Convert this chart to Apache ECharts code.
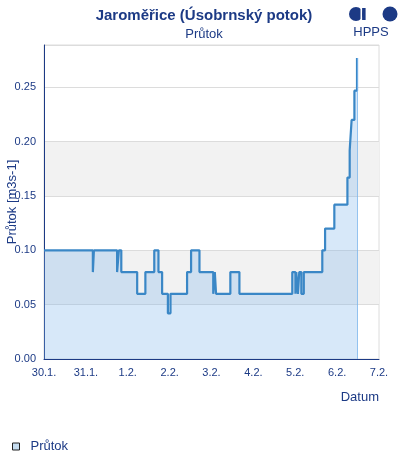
<!DOCTYPE html>
<html>
<head>
<meta charset="utf-8">
<script src="https://cdn.jsdelivr.net/npm/echarts@6/dist/echarts.min.js"></script>
<style>html,body{margin:0;padding:0;background:#fff}#c{width:400px;height:460px}</style>
</head>
<body>
<div id="c"></div>
<script>
// Hours since 30.1. 00:00
var hours = [0, 28.0, 28.6, 41.9, 42.9, 44.3, 53.4, 58.1, 63.2, 65.6, 67.7, 71.0, 72.5, 82.0, 84.3, 89.1,
  97.0, 97.9, 98.6, 106.8, 112.0, 142.3, 144.1, 144.6, 145.5, 146.3, 147.5, 148.9,
  159.5, 161.1, 166.4, 173.9, 175.2, 176.3, 177.9, 179.4, 179.7];
var flow = [0.10, 0.08, 0.10, 0.08, 0.10, 0.08, 0.06, 0.08, 0.10, 0.08, 0.06, 0.042, 0.06, 0.08, 0.10, 0.08,
  0.06, 0.08, 0.06, 0.08, 0.06, 0.08, 0.06, 0.08, 0.06, 0.08, 0.06, 0.08,
  0.10, 0.12, 0.142, 0.167, 0.192, 0.22, 0.247, 0.277, 0.277];
var dayLabels = ['30.1.', '31.1.', '1.2.', '2.2.', '3.2.', '4.2.', '5.2.', '6.2.', '7.2.'];
var seriesName = 'Průtok';

var navy = '#1c3a85';
var data = hours.map(function (h, i) { return [h, flow[i]]; });
var lastH = hours[hours.length - 1], lastV = flow[flow.length - 1];

var chart = echarts.init(document.getElementById('c'), null, {renderer: 'canvas'});
chart.setOption({
  animation: false,
  textStyle: {fontFamily: 'Liberation Sans, Arial, sans-serif'},
  title: {
    text: 'Jaroměřice (Úsobrnský potok)',
    subtext: 'Průtok',
    left: 199, top: 3, textAlign: 'center',
    textStyle: {fontSize: 15, fontWeight: 'bold', color: navy},
    subtextStyle: {fontSize: 13, color: navy},
    itemGap: 5
  },
  graphic: [
    {type: 'circle', shape: {cx: 356, cy: 14, r: 7}, style: {fill: navy}, z: 10},
    {type: 'rect', shape: {x: 360.5, y: 5, width: 1.6, height: 18}, style: {fill: '#fff'}, z: 11},
    {type: 'rect', shape: {x: 362.1, y: 8, width: 3.5, height: 12}, style: {fill: navy}, z: 11},
    {type: 'circle', shape: {cx: 390, cy: 14, r: 7.5}, style: {fill: navy}, z: 10},
    {type: 'text', z: 10, style: {text: 'HPPS', x: 371, y: 32, fill: navy, font: '13px Liberation Sans, Arial, sans-serif', align: 'center', verticalAlign: 'middle'}}
  ],
  legend: {
    left: 7, top: 435,
    itemWidth: 7, itemHeight: 7, itemGap: 10,
    data: [{name: seriesName, icon: 'rect', itemStyle: {color: '#c6ddf0', borderColor: '#222', borderWidth: 1}}],
    textStyle: {color: navy, fontSize: 13, padding: [0, 0, 0, 6]}
  },
  grid: {left: 44, right: 21, top: 45, bottom: 101, show: true, borderColor: '#dcdcdc', borderWidth: 1, containLabel: false, outerBoundsMode: 'none'},
  xAxis: {
    type: 'value', min: 0, max: 192, interval: 24,
    name: 'Datum', nameLocation: 'end', nameGap: 0, nameMoveOverlap: false,
    nameTextStyle: {color: navy, fontSize: 13, align: 'right', verticalAlign: 'top', padding: [32, 0, 0, 0]},
    axisLine: {show: true, lineStyle: {color: navy, width: 1}},
    axisTick: {show: false},
    splitLine: {show: false},
    axisLabel: {color: navy, fontSize: 11, margin: 8, formatter: function (v) { return dayLabels[Math.round(v / 24)] || ''; }}
  },
  yAxis: {
    type: 'value', min: 0, max: 0.289, interval: 0.05,
    name: 'Průtok [m3s-1]', nameLocation: 'middle', nameRotate: 90, nameGap: 25, nameMoveOverlap: false,
    nameTextStyle: {color: navy, fontSize: 13},
    axisLine: {show: true, lineStyle: {color: navy, width: 1}},
    axisTick: {show: false},
    axisLabel: {color: navy, fontSize: 11, margin: 8, showMaxLabel: false, formatter: function (v) { return v.toFixed(2); }},
    splitLine: {show: true, lineStyle: {color: '#dcdcdc', width: 1}},
    splitArea: {show: true, areaStyle: {color: ['rgba(0,0,0,0)', '#f2f2f2', 'rgba(0,0,0,0)', '#f2f2f2', 'rgba(0,0,0,0)', 'rgba(0,0,0,0)']}}
  },
  series: [{
    name: seriesName, type: 'line', step: 'end', data: data,
    symbol: 'none', showSymbol: false,
    lineStyle: {color: '#3a87c6', width: 2.2},
    itemStyle: {color: '#3a87c6'},
    areaStyle: {color: 'rgba(124,181,236,0.44)'},
    markLine: {
      silent: true, symbol: 'none', label: {show: false},
      lineStyle: {color: 'rgba(124,181,236,0.8)', width: 1, type: 'solid'},
      data: [[{coord: [lastH, 0]}, {coord: [lastH, lastV]}]]
    }
  }]
});
</script>
</body>
</html>
